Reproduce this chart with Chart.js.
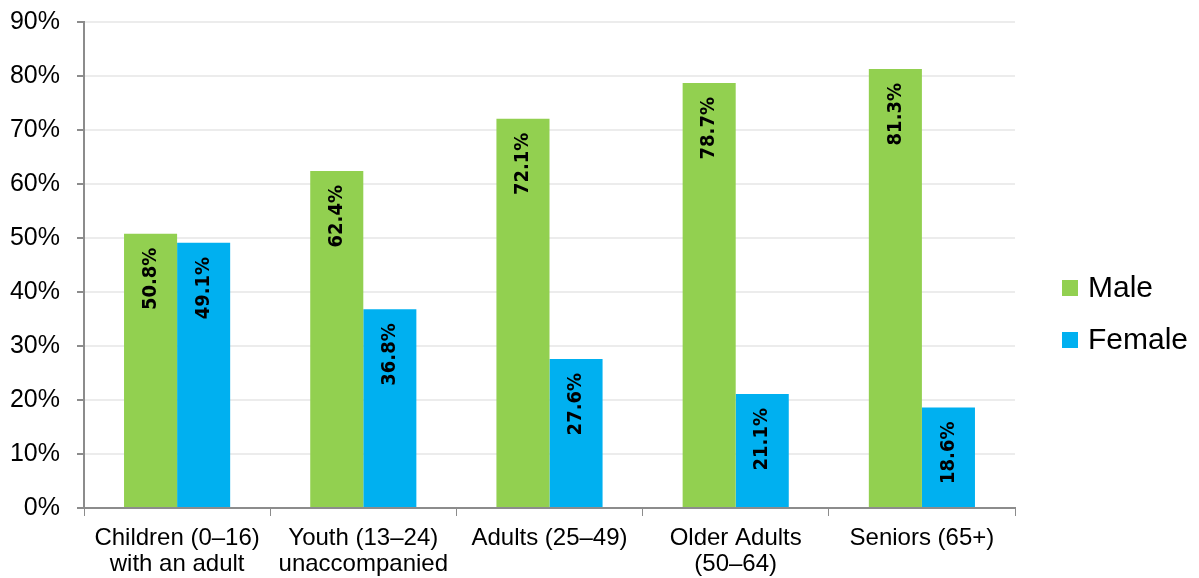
<!DOCTYPE html>
<html lang="en">
<head>
    <meta charset="UTF-8">
    <title>Male / Female by age group</title>
    <script src="https://cdn.jsdelivr.net/npm/chart.js"></script>
    <style>
        html, body {
            margin: 0;
            padding: 0;
            background: #fff;
        }
        #chart-container {
            position: relative;
            width: 1199px;
            height: 578px;
        }
    </style>
</head>
<body>
    <div id="chart-container">
        <canvas id="gender-chart"></canvas>
    </div>

    <script>
        const categories = [
            ['Children (0\u201316)', 'with an adult'],
            ['Youth (13\u201324)', 'unaccompanied'],
            'Adults (25\u201349)',
            ['Older Adults', '(50\u201364)'],
            'Seniors (65+)'
        ];
        const maleValues = [50.8, 62.4, 72.1, 78.7, 81.3];
        const femaleValues = [49.1, 36.8, 27.6, 21.1, 18.6];
        const yTicks = [0, 10, 20, 30, 40, 50, 60, 70, 80, 90];

        const baseFont = '"Liberation Sans", Arial, sans-serif';

        // rotated value labels just inside the top of each bar
        const barLabels = {
            id: 'barLabels',
            afterDatasetsDraw(chart) {
                const ctx = chart.ctx;
                ctx.save();
                ctx.fillStyle = '#000';
                ctx.font = 'bold 20px "DejaVu Sans Condensed", "DejaVu Sans", sans-serif';
                ctx.textAlign = 'right';
                ctx.textBaseline = 'middle';
                chart.data.datasets.forEach((ds, i) => {
                    chart.getDatasetMeta(i).data.forEach((bar, j) => {
                        ctx.save();
                        ctx.translate(bar.x, bar.y + 14);
                        ctx.rotate(-Math.PI / 2);
                        ctx.fillText(ds.data[j].toFixed(1) + '%', 0, 0);
                        ctx.restore();
                    });
                });
                ctx.restore();
            }
        };

        // legend to the right of the plot, square swatches
        const sideLegend = {
            id: 'sideLegend',
            afterDraw(chart) {
                const ctx = chart.ctx;
                const x = chart.chartArea.right + 47;
                let y = 288;
                ctx.save();
                ctx.font = '30px ' + baseFont;
                ctx.textBaseline = 'middle';
                ctx.textAlign = 'left';
                chart.data.datasets.forEach((ds) => {
                    ctx.fillStyle = ds.backgroundColor;
                    ctx.fillRect(x, y - 8, 16, 16);
                    ctx.fillStyle = '#000';
                    ctx.fillText(ds.label, x + 26, y + 1);
                    y += 52;
                });
                ctx.restore();
            }
        };

        const ctx = document.getElementById('gender-chart').getContext('2d');
        const genderChart = new Chart(ctx, {
            type: 'bar',
            data: {
                labels: categories,
                datasets: [{
                    label: 'Male',
                    data: maleValues,
                    backgroundColor: '#92D050'
                }, {
                    label: 'Female',
                    data: femaleValues,
                    backgroundColor: '#00B0F0'
                }]
            },
            options: {
                responsive: true,
                maintainAspectRatio: false,
                animation: false,
                categoryPercentage: 0.57,
                barPercentage: 1.0,
                layout: {
                    padding: { top: 22, left: 10, right: 184, bottom: 0 }
                },
                plugins: {
                    legend: { display: false },
                    tooltip: { enabled: false }
                },
                scales: {
                    x: {
                        afterFit: (s) => {
                            s.paddingLeft = 0;
                            s.paddingRight = 0;
                            s.height = 70;
                        },
                        grid: {
                            drawOnChartArea: false,
                            color: '#8c8c8c',
                            tickLength: 8
                        },
                        border: { color: '#8c8c8c', width: 2 },
                        ticks: {
                            color: '#000',
                            padding: 10,
                            maxRotation: 0,
                            font: { family: baseFont, size: 24, lineHeight: 1.07 }
                        }
                    },
                    y: {
                        min: 0,
                        max: 90,
                        afterBuildTicks: (axis) => {
                            axis.ticks = yTicks.map(v => ({ value: v }));
                        },
                        afterFit: (s) => {
                            s.paddingTop = 0;
                            s.paddingBottom = 0;
                            s.width = 74;
                        },
                        grid: {
                            color: '#ececec',
                            tickColor: '#8c8c8c',
                            tickLength: 7,
                            lineWidth: 2
                        },
                        border: { color: '#8c8c8c', width: 2 },
                        ticks: {
                            color: '#000',
                            padding: 17,
                            font: { family: baseFont, size: 25 },
                            callback: (v) => v + '%'
                        }
                    }
                }
            },
            plugins: [barLabels, sideLegend]
        });
    </script>
</body>
</html>
